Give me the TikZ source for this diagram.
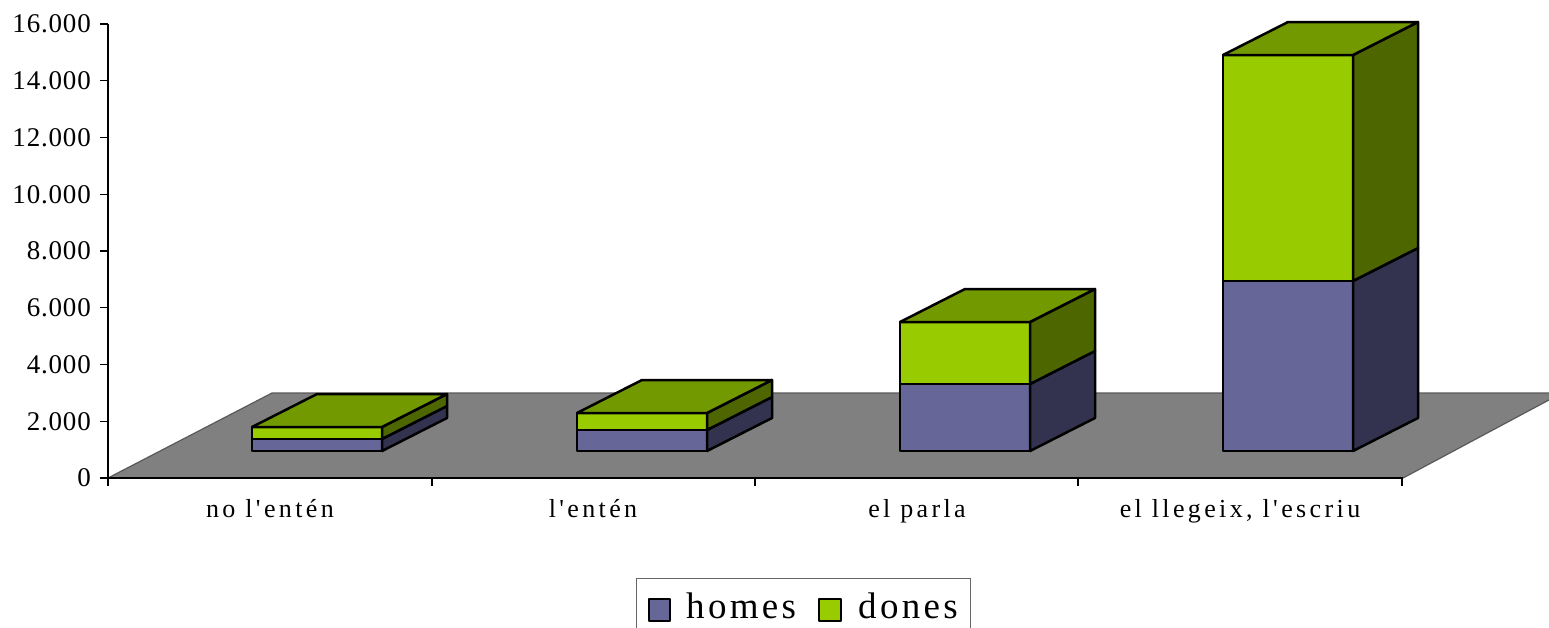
\documentclass[tikz,border=0pt]{standalone}
\usepackage{fontspec}
\setmainfont{Liberation Serif}
\newfontfamily\spacedfont[LetterSpace=13]{Liberation Serif}
\newfontfamily\keyfont[LetterSpace=9]{Liberation Serif}
\newfontfamily\tickfont[LetterSpace=3]{Liberation Serif}
\usepackage{tikz}

\definecolor{homesfront}{HTML}{666699}
\definecolor{homesside}{HTML}{333350}
\definecolor{donesfront}{HTML}{99CC00}
\definecolor{donesside}{HTML}{4D6600}
\definecolor{donestop}{HTML}{739900}
\definecolor{floorgray}{HTML}{808080}

\begin{document}
\begin{tikzpicture}[x=1pt,y=-1pt]
                \tikzstyle{every node}+=[inner sep=0pt]
                \tikzstyle{piece}=[draw=black,line width=2.5pt,line join=round]
                \tikzstyle{ticklabel}=[anchor=east,font=\fontsize{27}{27}\tickfont]
                \tikzstyle{catlabel}=[anchor=base,font=\fontsize{26}{26}\spacedfont]
                \tikzstyle{keylabel}=[anchor=base west,font=\fontsize{37}{37}\keyfont]
                \useasboundingbox (0,0) rectangle (1549,627);
                % floor
                \fill [floorgray] (108,478) -- (1403,478) -- (1562,393) -- (272,393) -- cycle;
                \draw [black!65,line width=1.2pt] (108,478) -- (272,393) -- (1562,393);
                \draw [black!65,line width=1.2pt] (1403,478) -- (1562,393);
                % value axis
                \draw [black,line width=1.3pt] (108,24) -- (108,478);
                \foreach \n/\lab in {0/0,1/2.000,2/4.000,3/6.000,4/8.000,5/10.000,6/12.000,7/14.000,8/16.000} {
                  \draw [black,line width=1.3pt] (100,478-\n*56.75) -- (108,478-\n*56.75);
                  \node [ticklabel] (tick\n) at (91,478-\n*56.75) {\lab};
                }
                % category axis
                \draw [black,line width=1.3pt] (108,478) -- (1403,478);
                \foreach \xt in {108,432,755,1078,1402}
                  \draw [black,line width=1.3pt] (\xt,478) -- (\xt,486);
                \node [catlabel] (cat1) at (270,517) {no l'entén};
                \node [catlabel] (cat2) at (593,517) {l'entén};
                \node [catlabel] (cat3) at (917,517) {el parla};
                \node [catlabel] (cat4) at (1240,517) {el llegeix, l'escriu};
                % bars
                \foreach \xa/\yh/\yd in {252/439/427,577/430/413,900/384/322,1223/281/55} {
                  \filldraw [piece,fill=homesfront] (\xa,451) rectangle (\xa+130,\yh);
                  \filldraw [piece,fill=homesside] (\xa+130,451) -- (\xa+195,418) -- (\xa+195,\yh-33) -- (\xa+130,\yh) -- cycle;
                  \filldraw [piece,fill=donesfront] (\xa,\yh) rectangle (\xa+130,\yd);
                  \filldraw [piece,fill=donesside] (\xa+130,\yh) -- (\xa+195,\yh-33) -- (\xa+195,\yd-33) -- (\xa+130,\yd) -- cycle;
                  \filldraw [piece,fill=donestop] (\xa,\yd) -- (\xa+130,\yd) -- (\xa+195,\yd-33) -- (\xa+65,\yd-33) -- cycle;
                }
                % legend
                \draw [black!60,line width=1pt] (636,578) rectangle (970,640);
                \filldraw [piece,line width=2pt,fill=homesfront] (649,599) rectangle (670,621);
                \node [keylabel] (homes) at (686,618) {homes};
                \filldraw [piece,line width=2pt,fill=donesfront] (819,599) rectangle (841,621);
                \node [keylabel] (dones) at (858,618) {dones};
            \end{tikzpicture}
\end{document}
